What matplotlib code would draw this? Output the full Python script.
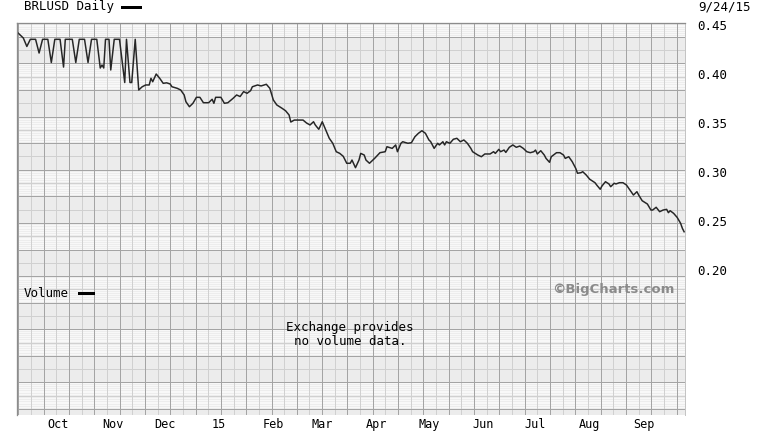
import numpy as np
import pandas as pd
import matplotlib
matplotlib.use('Agg')
import matplotlib.pyplot as plt
from matplotlib.lines import Line2D

# BRLUSD daily close
dates = [
    '2014-09-08', '2014-09-11', '2014-09-13', '2014-09-15', '2014-09-18', '2014-09-20',
    '2014-09-22', '2014-09-25', '2014-09-27', '2014-09-29', '2014-10-02', '2014-10-04',
    '2014-10-05', '2014-10-09', '2014-10-11', '2014-10-13', '2014-10-16', '2014-10-18',
    '2014-10-20', '2014-10-23', '2014-10-25', '2014-10-26', '2014-10-27', '2014-10-28',
    '2014-10-30', '2014-10-31', '2014-11-02', '2014-11-05', '2014-11-08', '2014-11-09',
    '2014-11-11', '2014-11-12', '2014-11-14', '2014-11-16',
    '2014-11-18', '2014-11-20', '2014-11-22', '2014-11-23', '2014-11-24', '2014-11-26',
    '2014-11-28', '2014-11-30', '2014-12-02', '2014-12-04', '2014-12-05', '2014-12-08',
    '2014-12-10', '2014-12-12', '2014-12-13', '2014-12-15', '2014-12-17', '2014-12-19',
    '2014-12-21', '2014-12-23', '2014-12-26', '2014-12-28', '2014-12-29', '2014-12-30',
    '2015-01-02', '2015-01-04', '2015-01-06', '2015-01-09', '2015-01-11', '2015-01-13',
    '2015-01-15', '2015-01-17', '2015-01-19', '2015-01-20', '2015-01-23', '2015-01-25',
    '2015-01-28', '2015-01-30', '2015-02-01', '2015-02-03', '2015-02-06', '2015-02-08',
    '2015-02-10', '2015-02-11', '2015-02-13', '2015-02-18', '2015-02-20', '2015-02-22',
    '2015-02-24', '2015-02-25', '2015-02-27', '2015-03-01', '2015-03-03', '2015-03-05',
    '2015-03-07', '2015-03-09', '2015-03-11', '2015-03-13', '2015-03-15', '2015-03-17',
    '2015-03-18', '2015-03-20', '2015-03-22', '2015-03-23', '2015-03-25', '2015-03-26',
    '2015-03-28', '2015-03-31', '2015-04-03', '2015-04-06', '2015-04-07', '2015-04-10',
    '2015-04-12', '2015-04-13', '2015-04-15', '2015-04-16', '2015-04-19', '2015-04-21',
    '2015-04-23', '2015-04-25', '2015-04-27', '2015-04-29', '2015-05-01', '2015-05-02',
    '2015-05-04', '2015-05-06', '2015-05-07', '2015-05-09', '2015-05-10', '2015-05-11',
    '2015-05-13', '2015-05-15', '2015-05-17', '2015-05-19', '2015-05-21', '2015-05-23',
    '2015-05-25', '2015-05-26', '2015-05-29', '2015-05-31', '2015-06-02', '2015-06-05',
    '2015-06-07', '2015-06-08', '2015-06-10', '2015-06-11', '2015-06-13', '2015-06-14',
    '2015-06-16', '2015-06-18', '2015-06-20', '2015-06-22', '2015-06-24', '2015-06-26',
    '2015-06-28', '2015-06-30', '2015-07-01', '2015-07-02', '2015-07-04', '2015-07-06',
    '2015-07-07', '2015-07-09', '2015-07-10', '2015-07-13', '2015-07-15', '2015-07-17',
    '2015-07-18', '2015-07-20', '2015-07-22', '2015-07-24', '2015-07-25', '2015-07-27',
    '2015-07-28', '2015-07-30', '2015-08-01', '2015-08-04', '2015-08-05', '2015-08-07',
    '2015-08-08', '2015-08-10', '2015-08-12', '2015-08-13', '2015-08-15', '2015-08-16',
    '2015-08-18', '2015-08-20', '2015-08-22', '2015-08-24', '2015-08-26', '2015-08-28',
    '2015-08-29', '2015-08-31', '2015-09-03', '2015-09-05', '2015-09-06', '2015-09-08',
    '2015-09-10', '2015-09-12', '2015-09-14', '2015-09-15', '2015-09-16', '2015-09-18',
    '2015-09-20', '2015-09-22', '2015-09-23', '2015-09-24',
]
price = [
    0.4418, 0.4367, 0.4281, 0.4354, 0.4354, 0.4214,
    0.4354, 0.4354, 0.4117, 0.4354, 0.4354, 0.4071,
    0.4354, 0.4354, 0.4117, 0.4354, 0.4354, 0.4117,
    0.4354, 0.4354, 0.4061, 0.4092, 0.4061, 0.4354,
    0.4354, 0.4041, 0.4354, 0.4354, 0.3913, 0.4354,
    0.3913, 0.3913, 0.4354, 0.3837,
    0.3870, 0.3888, 0.3888, 0.3956, 0.3921, 0.4000,
    0.3956, 0.3905, 0.3910, 0.3898, 0.3870, 0.3854,
    0.3837, 0.3786, 0.3717, 0.3666, 0.3701, 0.3762,
    0.3762, 0.3707, 0.3707, 0.3742, 0.3701, 0.3762,
    0.3762, 0.3701, 0.3707, 0.3752, 0.3786, 0.3770,
    0.3820, 0.3803, 0.3830, 0.3870, 0.3888, 0.3878,
    0.3895, 0.3854, 0.3735, 0.3684, 0.3650, 0.3625,
    0.3582, 0.3510, 0.3530, 0.3530, 0.3500, 0.3480,
    0.3513, 0.3480, 0.3436, 0.3513, 0.3429, 0.3344,
    0.3293, 0.3207, 0.3190, 0.3160, 0.3089, 0.3089,
    0.3122, 0.3044, 0.3122, 0.3190, 0.3173, 0.3122,
    0.3089, 0.3140, 0.3197, 0.3207, 0.3258, 0.3241,
    0.3276, 0.3207, 0.3293, 0.3309, 0.3293, 0.3299,
    0.3360, 0.3395, 0.3421, 0.3395, 0.3327, 0.3310,
    0.3241, 0.3293, 0.3276, 0.3309, 0.3276, 0.3309,
    0.3293, 0.3334, 0.3344, 0.3309, 0.3327, 0.3293,
    0.3241, 0.3207, 0.3173, 0.3156, 0.3184, 0.3184,
    0.3207, 0.3190, 0.3231, 0.3207, 0.3224, 0.3200,
    0.3252, 0.3276, 0.3252, 0.3265, 0.3241, 0.3207,
    0.3197, 0.3207, 0.3224, 0.3184, 0.3217, 0.3173,
    0.3139, 0.3099, 0.3156, 0.3197, 0.3197, 0.3173,
    0.3139, 0.3156, 0.3105, 0.3037, 0.2987, 0.2993,
    0.3003, 0.2969, 0.2926, 0.2891, 0.2867, 0.2824,
    0.2857, 0.2901, 0.2878, 0.2850, 0.2885, 0.2878,
    0.2891, 0.2891, 0.2867, 0.2816, 0.2765, 0.2799,
    0.2765, 0.2707, 0.2673, 0.2612, 0.2612, 0.2640,
    0.2595, 0.2612, 0.2619, 0.2585, 0.2605, 0.2578,
    0.2537, 0.2476, 0.2425, 0.2390,
]

price_ticks = [0.45, 0.40, 0.35, 0.30, 0.25, 0.20]
price_labels = ['0.45', '0.40', '0.35', '0.30', '0.25', '0.20']
month_starts = ['2014-10-01', '2014-11-01', '2014-12-01', '2015-01-01', '2015-02-01', '2015-03-01',
                '2015-04-01', '2015-05-01', '2015-06-01', '2015-07-01', '2015-08-01', '2015-09-01']
month_labels = ['Oct', 'Nov', 'Dec', '15', 'Feb', 'Mar', 'Apr', 'May', 'Jun', 'Jul', 'Aug', 'Sep']

MONO = 'DejaVu Sans Mono'
W, H = 768, 432
L, R, T, B = 17, 685, 23, 415
PX = 0.72  # one pixel in points

fig = plt.figure(figsize=(W / 100, H / 100), dpi=100)
rect = [L / W, 1 - B / H, (R - L) / W, (B - T) / H]

# background grid, in pixel units of the plot box
bg = fig.add_axes(rect, zorder=0)
bg.set_xlim(0, R - L)
bg.set_ylim(B - T, 0)
bg.axis('off')
band = 26.6
y0 = 13.7
edges = [0] + list(np.arange(y0, B - T, band)) + [B - T]
for i in range(len(edges) - 1):
    top, bot = edges[i], edges[i + 1]
    if i % 2 == 1:
        bg.axhspan(top, bot, color='#ececec', lw=0)
    else:
        bg.axhspan(top, bot, color='#f8f8f8', lw=0)
        for s in np.arange(top + 1.3, bot, 2.2):
            bg.axhline(s, color='#e9e9e9', lw=0.7 * PX)
for yy in np.arange(y0 + band / 2, B - T, band):
    bg.axhline(yy, color='#d0d0d0', lw=PX)
vstep = 25.32
for xx in np.arange(1.3 + vstep / 2, R - L, vstep):
    bg.axvline(xx, color='#d0d0d0', lw=PX)
for yy in np.arange(y0, B - T, band):
    bg.axhline(yy, color='#a4a4a4', lw=PX)
for xx in np.arange(1.3, R - L, vstep):
    bg.axvline(xx, color='#a4a4a4', lw=PX)

# price chart
ax = fig.add_axes(rect, zorder=1)
ax.patch.set_alpha(0)
ax.plot(pd.to_datetime(dates), price, color='#262626', lw=1.5 * PX)
base = pd.Timestamp('2014-10-01')
ax.set_xlim(base - pd.Timedelta(days=23.63), base + pd.Timedelta(days=358.5))
ax.set_ylim(0.45 - (B - 25) / 980, 0.45 + (25 - T) / 980)

ax.yaxis.tick_right()
ax.set_yticks(price_ticks, price_labels, family=MONO, fontsize=9)
ax.set_xticks(pd.to_datetime(month_starts), month_labels, family=MONO, fontsize=8.5)
ax.tick_params(axis='y', length=0, pad=8.5, colors='black')
ax.tick_params(axis='x', length=0, pad=2.0, colors='black')

for side in ['left', 'top']:
    ax.spines[side].set_color('#8c8c8c')
    ax.spines[side].set_linewidth(1.3 * PX)
ax.spines['right'].set_color('#c4c4c4')
ax.spines['right'].set_linewidth(PX)
ax.spines['bottom'].set_visible(False)


def fx(x):
    return x / W


def fy(y):
    return 1 - y / H


fig.text(fx(24), fy(6.5), 'BRLUSD Daily', family=MONO, fontsize=9, va='center', ha='left')
fig.add_artist(Line2D([fx(122), fx(140)], [fy(6.5), fy(6.5)], color='black', lw=3 * PX))
fig.text(fx(751), fy(6.5), '9/24/15', family=MONO, fontsize=9, va='center', ha='right')

fig.text(fx(24), fy(293.5), 'Volume', family=MONO, fontsize=9, va='center', ha='left')
fig.add_artist(Line2D([fx(79), fx(93)], [fy(293), fy(293)], color='black', lw=3 * PX))

fig.text(fx(674), fy(290), '\u00a9BigCharts.com', family='DejaVu Sans', fontweight='bold',
         fontsize=9.5, color='#8a8a8a', va='center', ha='right')
fig.text(fx(350), fy(334.5), 'Exchange provides\nno volume data.', family=MONO, fontsize=9,
         va='center', ha='center', linespacing=1.05)

fig.savefig('out.png', dpi=100)
